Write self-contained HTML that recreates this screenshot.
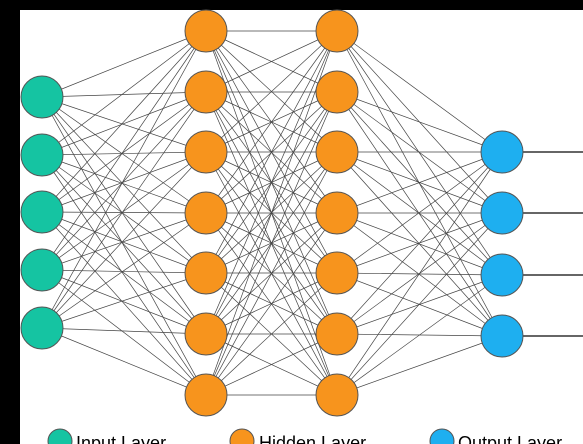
<!DOCTYPE html>
<html><head><meta charset="utf-8"><style>
html,body{margin:0;padding:0;background:#000;}
svg{display:block;}
</style></head><body>
<svg width="583" height="444" xmlns="http://www.w3.org/2000/svg" font-family="Liberation Sans, sans-serif">
<rect x="0" y="0" width="583" height="444" fill="#000"/>
<rect x="20" y="10" width="563" height="434" fill="#fff"/>
<g id="lines" stroke="#444" stroke-width="0.7"></g>
<g stroke="#666" stroke-width="2">
<line x1="502" y1="152" x2="583" y2="152"/><line x1="502" y1="213" x2="583" y2="213"/>
<line x1="502" y1="275" x2="583" y2="275"/><line x1="502" y1="336" x2="583" y2="336"/>
</g>
<g id="nodes" stroke="#555" stroke-width="1"></g>
<g stroke="#555" stroke-width="1">
<circle cx="60" cy="441" r="12" fill="#15c4a2"/>
<circle cx="242" cy="441" r="12" fill="#f7941d"/>
<circle cx="442" cy="441" r="12" fill="#1eaff0"/>
</g>
<g font-size="18" fill="#000">
<text x="76" y="449">Input Layer</text>
<text x="259" y="449">Hidden Layer</text>
<text x="458" y="449">Output Layer</text>
</g>
<script>
var L=[{x:42,ys:[97,155,212,270,328],c:"#15c4a2"},
{x:206,ys:[31,92,152,213,273,334,395],c:"#f7941d"},
{x:337,ys:[31,92,152,213,273,334,395],c:"#f7941d"},
{x:502,ys:[152,213,275,336],c:"#1eaff0"}];
var ns="http://www.w3.org/2000/svg",lg=document.getElementById("lines"),ng=document.getElementById("nodes");
for(var i=0;i<3;i++)for(var a of L[i].ys)for(var b of L[i+1].ys){var l=document.createElementNS(ns,"line");l.setAttribute("x1",L[i].x);l.setAttribute("y1",a);l.setAttribute("x2",L[i+1].x);l.setAttribute("y2",b);lg.appendChild(l);}
for(var k of L)for(var y of k.ys){var c=document.createElementNS(ns,"circle");c.setAttribute("cx",k.x);c.setAttribute("cy",y);c.setAttribute("r",21);c.setAttribute("fill",k.c);ng.appendChild(c);}
</script>
</svg>
</body></html>
